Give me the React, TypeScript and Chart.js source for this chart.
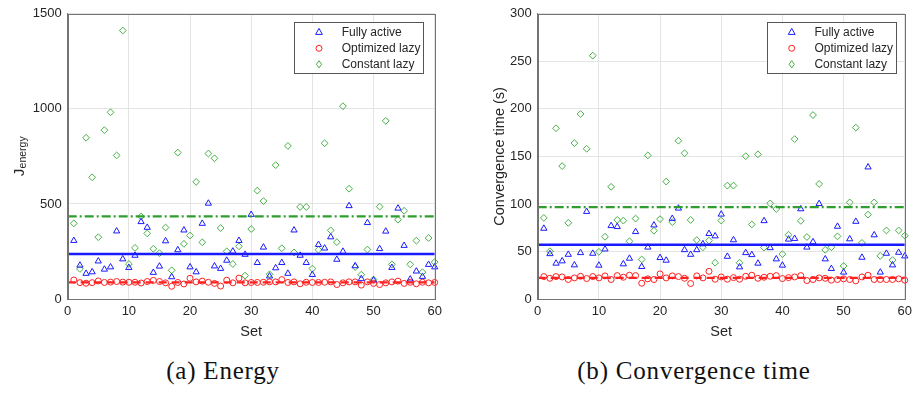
import React, { useEffect, useRef } from 'react';
import { Chart, registerables } from 'chart.js';

Chart.register(...registerables);

// Set index for every run
const SETS = [
  1, 2, 3, 4, 5, 6, 7, 8, 9, 10, 11, 12, 13, 14, 15, 16, 17, 18, 19, 20,
  21, 22, 23, 24, 25, 26, 27, 28, 29, 30, 31, 32, 33, 34, 35, 36, 37, 38, 39, 40,
  41, 42, 43, 44, 45, 46, 47, 48, 49, 50, 51, 52, 53, 54, 55, 56, 57, 58, 59, 60,
];

const SERIES_NAMES = ['Fully active', 'Optimized lazy', 'Constant lazy'];

// Energy per set
const ENERGY_FULLY_ACTIVE = [
  307, 177, 134, 142, 199, 156, 168, 357, 210, 165,
  229, 406, 376, 139, 172, 305, 116, 258, 362, 168,
  142, 397, 503, 173, 160, 203, 251, 307, 234, 444,
  191, 272, 120, 163, 191, 134, 362, 229, 191, 128,
  286, 267, 326, 208, 250, 490, 174, 106, 401, 99,
  264, 356, 165, 477, 281, 104, 146, 118, 181, 168,
];
const ENERGY_OPTIMIZED_LAZY = [
  100, 86, 83, 86, 95, 87, 89, 92, 89, 88,
  88, 84, 92, 98, 92, 85, 67, 87, 79, 109,
  90, 94, 88, 82, 68, 99, 85, 110, 85, 87,
  87, 88, 90, 90, 102, 87, 90, 80, 88, 87,
  87, 88, 90, 76, 85, 90, 90, 73, 90, 82,
  76, 85, 90, 94, 82, 88, 80, 88, 85, 87,
];
const ENERGY_CONSTANT_LAZY = [
  398, 158, 848, 640, 325, 888, 982, 755, 1412, 184,
  269, 434, 345, 264, 241, 376, 151, 770, 290, 334,
  616, 298, 765, 740, 373, 251, 184, 277, 123, 368,
  570, 515, 130, 704, 267, 805, 245, 484, 484, 160,
  259, 819, 361, 299, 1014, 580, 168, 128, 260, 102,
  486, 937, 182, 417, 464, 182, 307, 141, 321, 194,
];

// Convergence time per set (s)
const TIME_FULLY_ACTIVE = [
  74.2, 47.5, 37.5, 39.9, 46.8, 35.7, 48.6, 91.9, 47.9, 35.4,
  52.4, 77, 76, 36.8, 42.7, 70.7, 34, 54.4, 77.7, 43.4,
  40.6, 84.6, 95.4, 51.7, 46.8, 51.7, 57.9, 68.7, 66.2, 89.1,
  44.7, 62.1, 33.6, 48.6, 46.5, 37.5, 82.2, 53.8, 42, 35.4,
  62.8, 63.5, 94.7, 54.4, 60, 100.2, 42, 31.9, 76.3, 28.1,
  63.1, 81.5, 43.7, 138.7, 67.3, 28.1, 47.9, 35.7, 48.9, 45.1,
];
const TIME_OPTIMIZED_LAZY = [
  23.6, 21.8, 23.6, 23.2, 20.5, 22.2, 23.9, 21.5, 23.6, 22.2,
  24.3, 20.5, 24.6, 22.9, 25, 24.6, 16.6, 21.2, 20.5, 26.4,
  22.2, 24.3, 23.6, 21.8, 16.3, 24.3, 22.2, 29.1, 20.8, 23.2,
  20.8, 22.5, 20.8, 23.9, 25, 21.8, 22.9, 23.9, 24.6, 21.5,
  22.5, 23.2, 24.6, 19.4, 20.5, 22.2, 21.8, 19.8, 20.5, 21.2,
  20.5, 19.1, 23.2, 25, 20.5, 20.5, 20.5, 20.5, 21.2, 19.8,
];
const TIME_CONSTANT_LAZY = [
  85.3, 50.3, 179.6, 139.8, 80.1, 164, 194.6, 158, 256, 49.6,
  65.5, 118, 83.2, 82.5, 60.7, 84.6, 41.6, 151, 71.8, 84,
  123.5, 80.8, 166.5, 153.3, 83.2, 62, 54.4, 61.4, 38.1, 82.5,
  119.3, 119.3, 38.1, 150.2, 78.4, 152.2, 54.1, 100.6, 94.7, 47.2,
  67.6, 168.2, 82.2, 65.2, 193.5, 121, 51.7, 54.4, 65.9, 34.7,
  101.6, 180.3, 59, 88.8, 101.6, 45.4, 72.1, 40.9, 72.1, 66.6,
];

const SET_RANGE = [0, 60];
const SET_STEP = 10;
const ENERGY_RANGE = [0, 1500];
const ENERGY_STEP = 500;
const TIME_RANGE = [0, 300];
const TIME_STEP = 50;

const SANS = "'Liberation Sans', Arial, Helvetica, sans-serif";
const SERIF = "'Liberation Serif', 'Times New Roman', serif";
const TEXT = '#262626';
const AXIS = '#737373';
const GRID = '#e4e4e4';
const BLUE = '#1a1aff';
const RED = '#ff2020';
const GREEN_MARK = '#44b044';
const GREEN_LINE = '#2e9e2e';

const mean = (values: number[]) => values.reduce((s, v) => s + v, 0) / values.length;
const toPoints = (values: number[]) => values.map((y, i) => ({ x: SETS[i], y }));
const meanLine = (values: number[]) => {
  const m = mean(values);
  return [
    { x: SET_RANGE[0], y: m },
    { x: SET_RANGE[1], y: m },
  ];
};
const plainNumber = (v: number | string) => String(v);

type PanelProps = {
  width: number;
  height: number;
  axisWidth: number;
  padRight: number;
  padTop: number;
  axisHeight: number;
  range: number[];
  step: number;
  fully: number[];
  optimized: number[];
  constant: number[];
  legendX: number;
  drawYTitle: (ctx: CanvasRenderingContext2D, chart: Chart) => void;
};

function drawMarker(ctx: CanvasRenderingContext2D, kind: string, x: number, y: number, color: string) {
  ctx.save();
  ctx.strokeStyle = color;
  ctx.lineWidth = 1;
  ctx.beginPath();
  if (kind === 'triangle') {
    ctx.moveTo(x, y - 3.6);
    ctx.lineTo(x + 3.4, y + 2.4);
    ctx.lineTo(x - 3.4, y + 2.4);
    ctx.closePath();
  } else if (kind === 'circle') {
    ctx.arc(x, y, 3, 0, Math.PI * 2);
  } else {
    ctx.moveTo(x, y - 3.6);
    ctx.lineTo(x + 2.6, y);
    ctx.lineTo(x, y + 3.6);
    ctx.lineTo(x - 2.6, y);
    ctx.closePath();
  }
  ctx.stroke();
  ctx.restore();
}

function Panel(props: PanelProps) {
  const ref = useRef<HTMLCanvasElement | null>(null);

  useEffect(() => {
    const canvas = ref.current;
    if (!canvas) return;

    const frameAndLegend = {
      id: 'frameAndLegend',
      afterDraw(chart: Chart) {
        const ctx = chart.ctx;
        const { left, top, right, bottom } = chart.chartArea;
        ctx.save();
        // axes box
        ctx.strokeStyle = AXIS;
        ctx.lineWidth = 1;
        ctx.strokeRect(Math.round(left) + 0.5, Math.round(top) + 0.5, Math.round(right - left), Math.round(bottom - top));

        // legend
        const bx = props.legendX;
        const by = 22;
        ctx.fillStyle = '#ffffff';
        ctx.fillRect(bx, by, 129, 51);
        ctx.strokeStyle = '#555555';
        ctx.strokeRect(Math.round(bx) + 0.5, by + 0.5, 129, 51);
        const rows = [10, 26.3, 42.3];
        const kinds = ['triangle', 'circle', 'diamond'];
        const colors = [BLUE, RED, GREEN_MARK];
        ctx.font = `12px ${SANS}`;
        ctx.textBaseline = 'middle';
        ctx.textAlign = 'left';
        rows.forEach((dy, i) => {
          drawMarker(ctx, kinds[i], bx + 25, by + dy, colors[i]);
          ctx.fillStyle = TEXT;
          ctx.fillText(SERIES_NAMES[i], bx + 47.7, by + dy + 0.5);
        });

        props.drawYTitle(ctx, chart);
        ctx.restore();
      },
    };

    const chart = new Chart(canvas, {
      type: 'scatter',
      data: {
        datasets: [
          {
            type: 'line',
            label: SERIES_NAMES[0] + ' mean',
            data: meanLine(props.fully),
            borderColor: BLUE,
            borderWidth: 2.6,
            pointRadius: 0,
            order: 0,
          },
          {
            type: 'line',
            label: SERIES_NAMES[1] + ' mean',
            data: meanLine(props.optimized),
            borderColor: RED,
            borderWidth: 2.2,
            borderDash: [8, 5],
            pointRadius: 0,
            order: 0,
          },
          {
            type: 'line',
            label: SERIES_NAMES[2] + ' mean',
            data: meanLine(props.constant),
            borderColor: GREEN_LINE,
            borderWidth: 2.2,
            borderDash: [9, 3, 2, 3],
            pointRadius: 0,
            order: 0,
          },
          {
            label: SERIES_NAMES[0],
            data: toPoints(props.fully),
            pointStyle: 'triangle',
            pointRadius: 3.6,
            borderColor: BLUE,
            backgroundColor: 'rgba(0,0,0,0)',
            borderWidth: 1,
            clip: false,
            order: 1,
          },
          {
            label: SERIES_NAMES[1],
            data: toPoints(props.optimized),
            pointStyle: 'circle',
            pointRadius: 3,
            borderColor: RED,
            backgroundColor: 'rgba(0,0,0,0)',
            borderWidth: 1,
            clip: false,
            order: 1,
          },
          {
            label: SERIES_NAMES[2],
            data: toPoints(props.constant),
            pointStyle: 'rectRot',
            pointRadius: 3.4,
            borderColor: GREEN_MARK,
            backgroundColor: 'rgba(0,0,0,0)',
            borderWidth: 1,
            clip: false,
            order: 1,
          },
        ] as any,
      },
      options: {
        responsive: false,
        animation: false,
        events: [],
        layout: { padding: { top: props.padTop, right: props.padRight, left: 0, bottom: 0 } },
        plugins: {
          legend: { display: false },
          tooltip: { enabled: false },
        },
        scales: {
          x: {
            type: 'linear',
            min: SET_RANGE[0],
            max: SET_RANGE[1],
            ticks: {
              stepSize: SET_STEP,
              color: TEXT,
              font: { family: SANS, size: 13 },
              padding: 5,
              maxRotation: 0,
              callback: plainNumber,
            },
            grid: { color: GRID, drawTicks: false },
            border: { color: AXIS, width: 1 },
            title: {
              display: true,
              text: 'Set',
              color: TEXT,
              font: { family: SANS, size: 14.5 },
              padding: { top: 0, bottom: 4.6 },
            },
            afterFit: (scale: any) => {
              scale.height = props.axisHeight;
            },
          },
          y: {
            type: 'linear',
            min: props.range[0],
            max: props.range[1],
            ticks: {
              stepSize: props.step,
              color: TEXT,
              font: { family: SANS, size: 13 },
              padding: 6,
              callback: plainNumber,
            },
            grid: { color: GRID, drawTicks: false },
            border: { color: AXIS, width: 1 },
            afterFit: (scale: any) => {
              scale.width = props.axisWidth;
            },
          },
        },
      } as any,
      plugins: [frameAndLegend],
    });

    return () => chart.destroy();
  }, []);

  return <canvas ref={ref} width={props.width} height={props.height} style={{ display: 'block' }} />;
}

function drawEnergyTitle(ctx: CanvasRenderingContext2D, chart: Chart) {
  const { top, bottom } = chart.chartArea;
  const cy = (top + bottom) / 2;
  ctx.save();
  ctx.translate(23.5, cy);
  ctx.rotate(-Math.PI / 2);
  ctx.fillStyle = TEXT;
  ctx.textBaseline = 'alphabetic';
  ctx.textAlign = 'left';
  ctx.font = `15px ${SANS}`;
  const wJ = ctx.measureText('J').width;
  ctx.font = `10.5px ${SANS}`;
  const wSub = ctx.measureText('energy').width;
  const start = -(wJ + wSub) / 2;
  ctx.font = `15px ${SANS}`;
  ctx.fillText('J', start, 0);
  ctx.font = `10.5px ${SANS}`;
  ctx.fillText('energy', start + wJ + 0.3, 2.8);
  ctx.restore();
}

function drawTimeTitle(ctx: CanvasRenderingContext2D, chart: Chart) {
  const { top, bottom } = chart.chartArea;
  const cy = (top + bottom) / 2;
  ctx.save();
  ctx.translate(40, cy);
  ctx.rotate(-Math.PI / 2);
  ctx.fillStyle = TEXT;
  ctx.textBaseline = 'middle';
  ctx.textAlign = 'center';
  ctx.font = `14.5px ${SANS}`;
  ctx.fillText('Convergence time (s)', 0, 0);
  ctx.restore();
}

const captionStyle: React.CSSProperties = {
  position: 'absolute',
  top: 356,
  width: 320,
  textAlign: 'center',
  fontFamily: SERIF,
  fontSize: 25,
  lineHeight: '30px',
  letterSpacing: '0.8px',
  color: '#111',
  whiteSpace: 'nowrap',
};

export default function App() {
  return (
    <div
      style={{
        position: 'absolute',
        left: 0,
        top: 0,
        width: 917,
        height: 400,
        background: '#ffffff',
        overflow: 'hidden',
      }}
    >
      <div style={{ position: 'absolute', left: 0, top: 0 }}>
        <Panel
          width={450}
          height={345}
          axisWidth={67.7}
          padRight={15.3}
          padTop={10.7}
          axisHeight={46}
          range={ENERGY_RANGE}
          step={ENERGY_STEP}
          fully={ENERGY_FULLY_ACTIVE}
          optimized={ENERGY_OPTIMIZED_LAZY}
          constant={ENERGY_CONSTANT_LAZY}
          legendX={294}
          drawYTitle={drawEnergyTitle}
        />
      </div>
      <div style={{ position: 'absolute', left: 460, top: 0 }}>
        <Panel
          width={457}
          height={345}
          axisWidth={77.7}
          padRight={10.3}
          padTop={10.7}
          axisHeight={46}
          range={TIME_RANGE}
          step={TIME_STEP}
          fully={TIME_FULLY_ACTIVE}
          optimized={TIME_OPTIMIZED_LAZY}
          constant={TIME_CONSTANT_LAZY}
          legendX={306.7}
          drawYTitle={drawTimeTitle}
        />
      </div>
      <div style={{ ...captionStyle, left: 223 - 160 }}>(a) Energy</div>
      <div style={{ ...captionStyle, left: 694 - 160 }}>(b) Convergence time</div>
    </div>
  );
}
